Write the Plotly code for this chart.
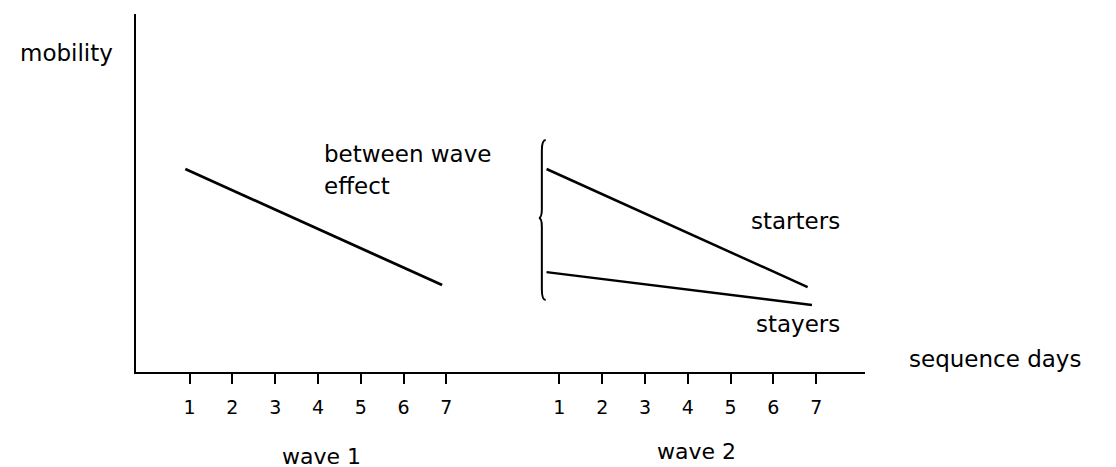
import plotly.graph_objects as go

# ---- data ----
day_labels = [1, 2, 3, 4, 5, 6, 7]

wave1_days = [0.9, 6.9]
wave1_mobility = [5.67, 2.43]

starters_days = [0.7, 6.8]
starters_mobility = [5.67, 2.37]

stayers_days = [0.7, 6.9]
stayers_mobility = [2.79, 1.87]

# ---- layout constants ----
WAVE2_OFFSET = 8.64
FONT = "DejaVu Sans"
INK = "black"

fig = go.Figure()

fig.add_trace(go.Scatter(x=wave1_days, y=wave1_mobility, mode="lines",
                         line=dict(color=INK, width=2.8), hoverinfo="skip", showlegend=False))
fig.add_trace(go.Scatter(x=[d + WAVE2_OFFSET for d in starters_days], y=starters_mobility,
                         mode="lines", line=dict(color=INK, width=2.5),
                         hoverinfo="skip", showlegend=False))
fig.add_trace(go.Scatter(x=[d + WAVE2_OFFSET for d in stayers_days], y=stayers_mobility,
                         mode="lines", line=dict(color=INK, width=2.5),
                         hoverinfo="skip", showlegend=False))

tickvals = [d for d in day_labels] + [d + WAVE2_OFFSET for d in day_labels]
ticktext = [str(d) for d in day_labels] * 2

# curly brace ("between wave effect") spanning the wave-2 starting values
xc = 0.59 + WAVE2_OFFSET
w = 0.09
top = starters_mobility[0] + 0.81
bot = stayers_mobility[0] - 0.78
mid = 4.30
brace = (f"M {xc + w},{top} Q {xc},{top} {xc},{top - 0.3} "
         f"L {xc},{mid + 0.25} Q {xc},{mid} {xc - 0.07},{mid} "
         f"Q {xc},{mid} {xc},{mid - 0.25} "
         f"L {xc},{bot + 0.3} Q {xc},{bot} {xc + w},{bot}")
fig.add_shape(type="path", path=brace, xref="x", yref="y",
              line=dict(color=INK, width=2))

def label(text, x, y, xanchor="left", size=23):
    fig.add_annotation(text=text, x=x, y=y, xref="paper", yref="paper",
                       xanchor=xanchor, yanchor="middle", showarrow=False,
                       font=dict(family=FONT, size=size, color=INK))

label("mobility", -0.029, 0.891, xanchor="right")
label("between wave", 0.255, 0.609)
label("effect", 0.255, 0.520)
label("starters", 0.968, 0.423, xanchor="right")
label("stayers", 0.968, 0.134, xanchor="right")
label("sequence days", 1.058, 0.036)
label("wave 1", 0.255, -0.235, xanchor="center", size=22)
label("wave 2", 0.769, -0.221, xanchor="center", size=22)

fig.update_layout(
    width=1116, height=467,
    margin=dict(l=128, r=259, t=6, b=103),
    paper_bgcolor="white", plot_bgcolor="white",
    xaxis=dict(range=[-0.252, 16.78], showgrid=False, zeroline=False,
               showline=True, linecolor=INK, linewidth=2.2,
               tickmode="array", tickvals=tickvals, ticktext=ticktext,
               ticks="outside", ticklen=10, tickwidth=2, tickcolor=INK,
               ticklabelstandoff=7,
               tickfont=dict(family=FONT, size=19, color=INK)),
    yaxis=dict(range=[0, 10], showgrid=False, zeroline=False,
               showline=True, linecolor=INK, linewidth=2.2,
               showticklabels=False, ticks=""),
)

fig.write_html("out.html")
